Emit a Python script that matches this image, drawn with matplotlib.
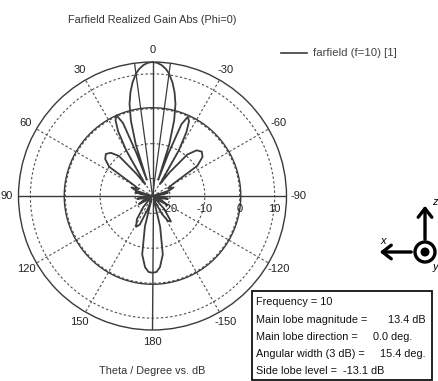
import numpy as np
import matplotlib
matplotlib.use("Agg")
import matplotlib.pyplot as plt
from matplotlib.lines import Line2D
from matplotlib.patches import Rectangle, Circle, FancyArrowPatch

plt.rcParams['font.family'] = ['Liberation Sans', 'DejaVu Sans']

# ---------------- data ----------------
theta_deg = [0, 2, 4, 6, 7.7, 10, 12, 14, 16, 18, 19.5, 20.5, 22, 24, 26, 28, 30, 32,
             36, 40, 44, 48, 52, 56, 60, 64, 68, 72, 75, 78, 81, 84, 90, 96, 100, 104,
             108, 116, 121, 126, 132, 140, 146, 152, 156, 160, 163, 166, 170, 174, 177, 180,
             -177, -174, -170, -166, -160, -156, -152, -148, -144, -138, -132, -126, -121,
             -116, -108, -104, -100, -96, -90, -84, -81, -78, -75, -72, -68, -64, -60, -56,
             -52, -48, -44, -40, -36, -32, -30, -28, -26, -24, -22, -20.5, -19.5, -18, -16,
             -14, -12, -10, -7.7, -6, -4, -2, 0]
gain_db = [13.4, 13.2, 12.6, 11.6, 10.4, 8.0, 5.4, 2.2, -2.5, -9.5, -20, -12, -2.5, 0.3, -0.8, -4, -10, -21,
           -17, -10, -7.8, -7, -7.8, -10, -19, -20.5, -18.5, -20, -24, -20, -22, -24.5, -24.5, -24, -20.5, -22,
           -24.5, -22, -20.5, -23, -24.5, -21, -17, -15, -16, -21, -24, -16, -8, -4.5, -3.2, -3,
           -3.2, -4.5, -8, -16, -24, -23, -19, -16.5, -16, -20, -24.5, -23, -20,
           -22, -24.5, -22, -20.5, -24, -24.5, -24.5, -22, -20.5, -24, -20, -18.5, -20, -18.5, -9.5,
           -6.8, -6, -6.8, -9.5, -16.5, -21, -10, -4.3, -1.1, -0.2, -2.8, -12, -20, -9.5, -2.5,
           2.2, 5.4, 8.0, 10.4, 11.6, 12.6, 13.2, 13.4]

r_min = -25.0
r_max = 13.4
ring_values = [-20, -10, 0, 10]
ring_labels = ["-20", "-10", "0", "10"]
angle_ticks = [0, 30, 60, 90, 120, 150, 180, -30, -60, -90, -120, -150]
main_lobe_dir = 0.0
beam_width = 15.4
side_lobe_level = -13.1

info_labels = ["Frequency = 10", "Main lobe magnitude =", "Main lobe direction =",
               "Angular width (3 dB) =", "Side lobe level =  -13.1 dB"]
info_values = ["", "13.4 dB", "0.0 deg.", "15.4 deg.", ""]

# ---------------- figure ----------------
W, H = 438, 381
fig = plt.figure(figsize=(W / 100, H / 100), dpi=100)
fig.patch.set_facecolor('white')

cx, cy, R = 152.5, 196.0, 134.0
ax = fig.add_axes([(cx - R) / W, (H - cy - R) / H, 2 * R / W, 2 * R / H], projection='polar')
ax.set_theta_zero_location('N')
ax.set_theta_direction(1)
ax.set_ylim(r_min, r_max)
ax.grid(False)
ax.set_xticks([])
ax.set_yticks([])
ax.patch.set_alpha(0)
ax.spines['polar'].set_color('#3a3a3a')
ax.spines['polar'].set_linewidth(1.0)

full = np.linspace(0, 2 * np.pi, 721)
gcol = '#505050'
for rv in ring_values:
    ax.plot(full, np.full_like(full, rv), color=gcol, lw=0.8, ls=(0, (2.2, 2.0)))
# side lobe level circle
ax.plot(full, np.full_like(full, r_max + side_lobe_level), color='#3a3a3a', lw=1.0)

for a in range(0, 360, 30):
    t = np.deg2rad(a)
    if a % 90 == 0:
        ax.plot([t, t], [r_min, r_max], color='#3a3a3a', lw=1.0)
    else:
        ax.plot([t, t], [r_min, r_max], color=gcol, lw=0.8, ls=(0, (2.2, 2.0)))

# beam width lines
for s in (-1, 1):
    t = np.deg2rad(main_lobe_dir + s * beam_width / 2)
    ax.plot([t, t], [r_min, r_max], color='#3a3a3a', lw=0.9)

ax.plot(np.deg2rad(theta_deg), gain_db, color='#3c3c3c', lw=1.3)

# angle labels
lab_r = r_min + 146 / (R / (r_max - r_min))
for a in angle_ticks:
    ax.text(np.deg2rad(a), lab_r, str(a), ha='center', va='center', fontsize=8,
            color='#222222', clip_on=False)

# ring labels
for rv, rl in zip(ring_values, ring_labels):
    ax.annotate(rl, xy=(np.deg2rad(-90), rv), xytext=(0, -9.5), textcoords='offset points',
                ha='center', va='center', fontsize=8, color='#222222')

# title & axis caption
fig.text(152 / W, 1 - 20 / H, "Farfield Realized Gain Abs (Phi=0)", ha='center', va='center',
         fontsize=7.8, color='#333333')
fig.text(152 / W, 1 - 371 / H, "Theta / Degree vs. dB", ha='center', va='center',
         fontsize=7.8, color='#333333')

# legend
fig.add_artist(Line2D([281 / W, 307 / W], [1 - 53 / H, 1 - 53 / H], color='#3c3c3c', lw=1.2,
                      transform=fig.transFigure))
fig.text(313 / W, 1 - 53 / H, "farfield (f=10) [1]", ha='left', va='center', fontsize=8.2,
         color='#444444')

# info box
fig.add_artist(Rectangle((252 / W, 1 / H), 180 / W, 89 / H, transform=fig.transFigure,
                         facecolor='white', edgecolor='#111111', lw=1.3))
ys = [302, 320, 337, 354, 371]
vx = [None, 388, 373, 380, None]
for lab, val, y, x in zip(info_labels, info_values, ys, vx):
    fig.text(256 / W, 1 - y / H, lab, ha='left', va='center', fontsize=7.8, color='#111111')
    if val:
        fig.text(x / W, 1 - y / H, val, ha='left', va='center', fontsize=7.8, color='#111111')

# coordinate triad (in pixel -> inch coordinates)
def px(x, y):
    return (x / 100, (H - y) / 100)

tr = fig.dpi_scale_trans
fig.add_artist(FancyArrowPatch(px(425, 242), px(425, 203), transform=tr,
                               arrowstyle='->,head_length=0.45,head_width=0.35',
                               mutation_scale=14, lw=2.4, color='black'))
fig.add_artist(FancyArrowPatch(px(414, 252), px(377, 252), transform=tr,
                               arrowstyle='->,head_length=0.45,head_width=0.35',
                               mutation_scale=14, lw=2.4, color='black'))
fig.add_artist(Circle(px(425, 252), 0.10, transform=tr, facecolor='white',
                      edgecolor='black', lw=2.4))
fig.add_artist(Circle(px(425, 252), 0.045, transform=tr, facecolor='black', edgecolor='none'))
fig.text(435 / W, 1 - 202 / H, "z", fontsize=8, style='italic', ha='center', va='center')
fig.text(383 / W, 1 - 241 / H, "x", fontsize=8, style='italic', ha='center', va='center')
fig.text(435 / W, 1 - 267 / H, "y", fontsize=8, style='italic', ha='center', va='center')

fig.savefig("out.png", dpi=100, facecolor='white')
